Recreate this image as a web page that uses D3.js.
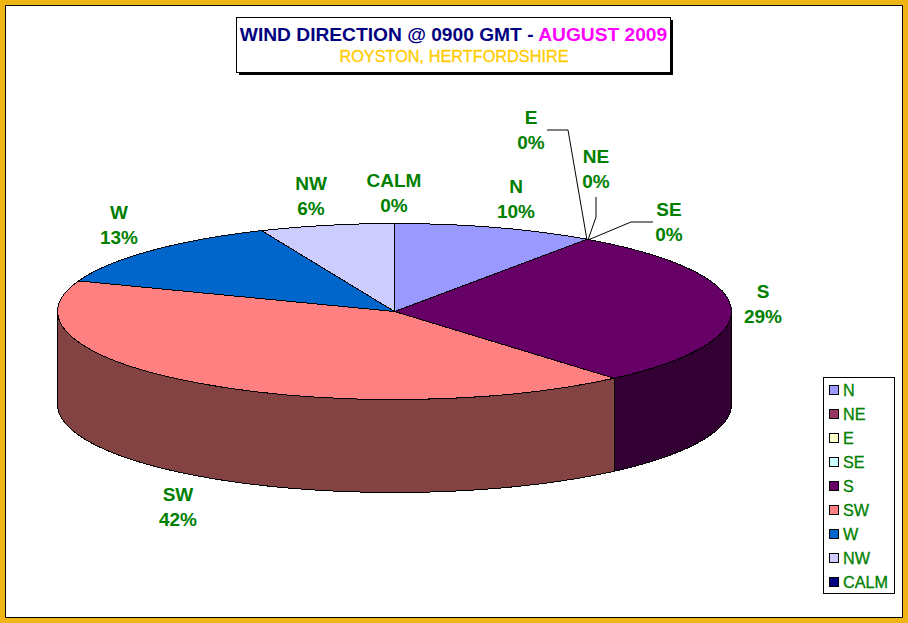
<!DOCTYPE html>
<html><head><meta charset="utf-8">
<script src="https://cdn.jsdelivr.net/npm/d3@7"></script>
<style>
html,body{margin:0;padding:0;background:#fff}
svg{display:block}
text{font-family:"Liberation Sans",Arial,sans-serif;font-weight:bold;fill:#008000}
</style></head><body>
<svg id="c" width="908" height="623"></svg>
<script>
const categories = ["N","NE","E","SE","S","SW","W","NW","CALM"];
const counts = [3,0,0,0,9,13,4,2,0];
const percentLabels = [10,0,0,0,29,42,13,6,0];
const topColors = ["#9999FF","#993366","#FFFFCC","#CCFFFF","#660066","#FF8080","#0066CC","#CCCCFF","#000080"];
const sideColors = ["#4C4C80","#4C1933","#808066","#668080","#330033","#844343","#003366","#666680","#000040"];
const labelAnchors = [[516,203],[596,173],[531,134],[669,226],[763,308],[178,511],[119,229],[311,200],[394,197]];
const leaders = {1:[[596,197],[596,217],[588,240]],2:[[547,130],[568,130],[587,240]],3:[[653,222],[631,222],[588,240]]};

const svg = d3.select("#c");
const cx=394.5, cy=311.5, rx=337, ry=88, depth=93;
// frame
svg.append("rect").attr("x",2.5).attr("y",2.5).attr("width",903).attr("height",618).attr("fill","#fff").attr("stroke","#F0B414").attr("stroke-width",5);
svg.append("path").attr("d","M5.5 617.5V5.5H902.5V617.5H5.5").attr("fill","none").attr("stroke","#000").attr("stroke-width",1);

const pie = d3.pie().value(d=>d).sort(null);
const arcs = pie(counts);
const px = a=>cx+rx*Math.sin(a), py=a=>cy-ry*Math.cos(a);
const arcGen = d3.arc().innerRadius(0).outerRadius(rx);

// side walls (only the front half of the ellipse is visible)
const side = d3.line().curve(d3.curveLinear);
arcs.forEach((d,i)=>{
  const a0=Math.max(d.startAngle,Math.PI/2), a1=Math.min(d.endAngle,3*Math.PI/2);
  if(a1<=a0) return;
  const top=d3.range(0,61).map(k=>{const a=a0+(a1-a0)*k/60;return [px(a),py(a)];});
  const bottom=top.slice().reverse().map(p=>[p[0],p[1]+depth]);
  svg.append("path").attr("d",side(top.concat(bottom))+"Z").attr("fill",sideColors[i]).attr("stroke","#000").attr("stroke-width",1).attr("shape-rendering","crispEdges");
});
// top slices: d3.arc squashed into an ellipse
const pieG = svg.append("g").attr("transform",`translate(${cx},${cy}) scale(1,${ry/rx})`);
pieG.selectAll("path").data(arcs.filter(d=>d.value>0)).join("path")
  .attr("d",arcGen)
  .attr("fill",d=>topColors[d.index])
  .attr("stroke","#000").attr("stroke-width",1)
  .attr("vector-effect","non-scaling-stroke")
  .attr("shape-rendering","crispEdges");

// leaders
Object.values(leaders).forEach(p=>{
  svg.append("path").attr("d",d3.line()(p)).attr("fill","none").attr("stroke","#000").attr("stroke-width",1);
});
// data labels
categories.forEach((c,i)=>{
  const [x,y]=labelAnchors[i];
  const t=svg.append("text").attr("text-anchor","middle").attr("font-size",19);
  t.append("tspan").attr("x",x).attr("y",y-10).text(c);
  t.append("tspan").attr("x",x).attr("y",y+15).text(percentLabels[i]+"%");
});
// title box
svg.append("rect").attr("x",239).attr("y",20).attr("width",434).attr("height",55).attr("fill","#000");
svg.append("rect").attr("x",236.5).attr("y",17.5).attr("width",434).attr("height",55).attr("fill","#fff").attr("stroke","#000");
const title=svg.append("text").attr("x",453.5).attr("y",41).attr("text-anchor","middle").attr("font-size",19.2);
title.append("tspan").style("fill","#000080").text("WIND DIRECTION @ 0900 GMT - ");
title.append("tspan").style("fill","#FF00FF").text("AUGUST 2009");
svg.append("text").attr("x",454).attr("y",62).attr("text-anchor","middle").attr("font-size",16.3).style("font-weight","normal").style("fill","#FFCC00").style("stroke","#FFCC00").style("stroke-width",0.3).text("ROYSTON, HERTFORDSHIRE");
// legend
svg.append("rect").attr("x",823.5).attr("y",377.5).attr("width",71).attr("height",216).attr("fill","#fff").attr("stroke","#000");
const ly=d3.scalePoint().domain(categories).range([390,582]);
categories.forEach((c,i)=>{
  svg.append("rect").attr("x",829.5).attr("y",ly(c)-4.5).attr("width",9).attr("height",9).attr("fill",topColors[i]).attr("stroke","#000");
  svg.append("text").attr("x",843).attr("y",ly(c)+6).attr("font-size",16.2).style("font-weight","normal").style("stroke","#008000").style("stroke-width",0.3).text(c);
});
</script></body></html>
